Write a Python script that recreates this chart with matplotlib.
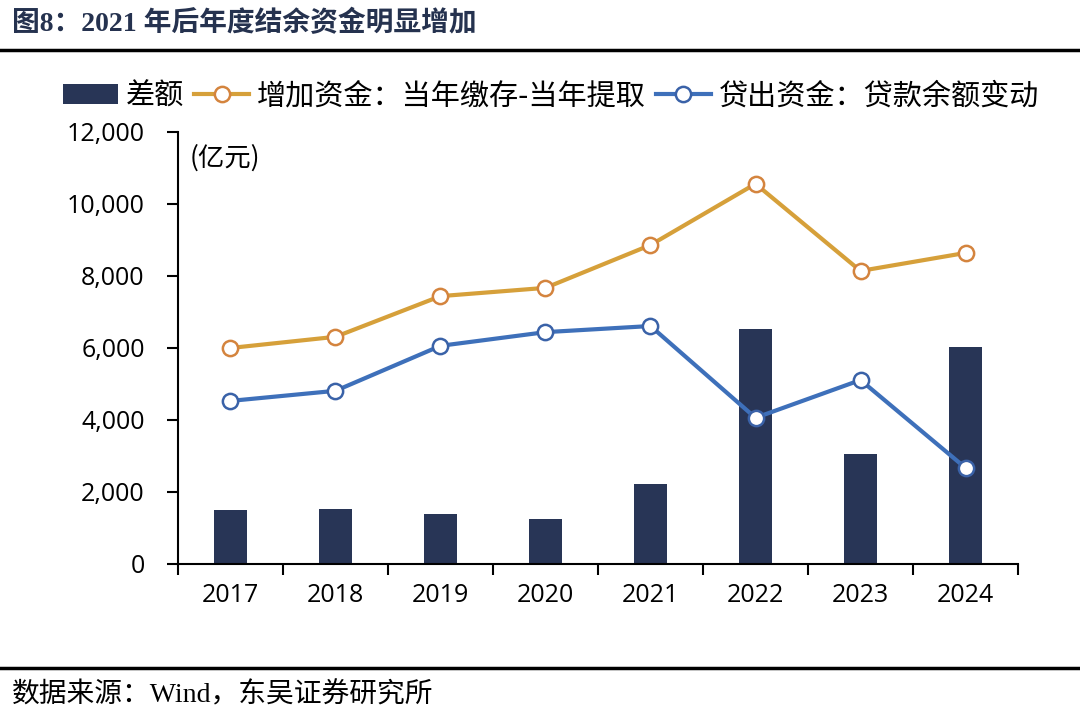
import numpy as np
import matplotlib.pyplot as plt
from matplotlib.lines import Line2D

years = ['2017', '2018', '2019', '2020', '2021', '2022', '2023', '2024']
diff = [1500, 1530, 1390, 1250, 2220, 6530, 3060, 6030]
added = [6000, 6310, 7440, 7670, 8860, 10560, 8140, 8640]
loans = [4530, 4810, 6060, 6440, 6610, 4060, 5110, 2670]

plt.rcParams['font.family'] = ['Noto Sans CJK SC', 'DejaVu Sans']

BAR = '#283556'
ORANGE = '#D6A03A'
ORANGE_EDGE = '#D4843E'
BLUE = '#3E70BA'
BLUE_EDGE = '#3A62A8'

fig = plt.figure(figsize=(10.8, 7.18), dpi=100)
ax = fig.add_axes([0.1648, 0.2145, 0.7778, 0.6017])

x = np.arange(len(years))
b = ax.bar(x, diff, width=0.32, color=BAR, zorder=2, label='差额')
l1, = ax.plot(x, added, color=ORANGE, lw=3, marker='o', ms=11, mfc='white',
              mec=ORANGE_EDGE, mew=1.8, zorder=3, label='增加资金：当年缴存-当年提取')
l2, = ax.plot(x, loans, color=BLUE, lw=3, marker='o', ms=11, mfc='white',
              mec=BLUE_EDGE, mew=1.8, zorder=3, label='贷出资金：贷款余额变动')

ax.set_xlim(-0.5, len(years) - 0.5)
ax.set_ylim(0, 12000)
ax.set_yticks(np.arange(0, 12001, 2000))
ax.set_yticklabels([f'{v:,}' for v in range(0, 12001, 2000)],
                   family=['Open Sans', 'DejaVu Sans'], fontsize=18)
ax.set_xticks(x)
ax.set_xticklabels(years, family=['Open Sans', 'DejaVu Sans'], fontsize=18)
ax.set_xticks(np.arange(-0.5, len(years)), minor=True)
ax.tick_params(axis='x', which='major', length=0, pad=14)
ax.tick_params(axis='x', which='minor', length=8, width=1.5, direction='out')
ax.tick_params(axis='y', length=8, width=1.5, direction='out', pad=16)
for s in ['top', 'right']:
    ax.spines[s].set_visible(False)
for s in ['left', 'bottom']:
    ax.spines[s].set_linewidth(1.5)

ax.text(0.014, 0.94, '(亿元)', transform=ax.transAxes, fontsize=19,
        va='center', ha='left')

fig.legend([b, l1, l2], [b.get_label(), l1.get_label(), l2.get_label()],
           loc='center', bbox_to_anchor=(0.51, 0.866),
           ncol=3, frameon=False, fontsize=21, handlelength=1.9,
           handletextpad=0.25, columnspacing=0.35, borderaxespad=0)

fig.text(0.011, 0.968, '图8：2021 年后年度结余资金明显增加', fontsize=20,
         fontweight='bold', color='#25324F', va='center', ha='left',
         family=['Liberation Serif', 'Noto Sans CJK SC'])
fig.add_artist(Line2D([0, 1], [0.930, 0.930], color='black', lw=2.5))
fig.add_artist(Line2D([0, 1], [0.069, 0.069], color='black', lw=2.5))
fig.text(0.011, 0.032, '数据来源：Wind，东吴证券研究所', fontsize=20,
         va='center', ha='left', family=['Liberation Serif', 'Noto Sans CJK SC'])

fig.savefig('out.png', dpi=100)
